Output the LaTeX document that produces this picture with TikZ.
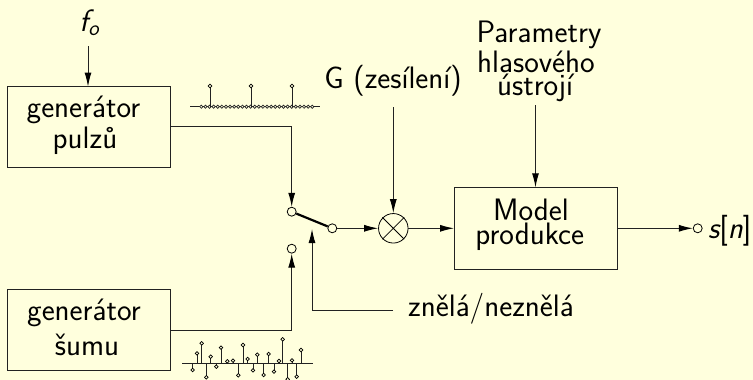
\documentclass[tikz,border=0pt]{standalone}
\usepackage{fontspec}
\usetikzlibrary{arrows.meta,shapes.misc}
\definecolor{bgcol}{HTML}{FFFFDD}
\definecolor{linecol}{HTML}{222222}
\tikzset{
  block/.style={draw=linecol,line width=1pt,anchor=north west,inner sep=0pt,outer sep=0pt,minimum width=163pt,minimum height=81pt},
  lab/.style={inner sep=0pt,anchor=base,font=\lbl},
  conn/.style={draw=linecol,line width=1pt,-{Latex[length=14pt,width=7pt,color=black]}},
  wire/.style={draw=linecol,line width=0.9pt},
  term/.style={draw=black,circle,fill=bgcol,line width=0.8pt,minimum size=9pt,inner sep=0pt},
  mult/.style={draw=black,circle,cross out,line width=0.8pt,minimum size=21pt,inner sep=0pt},
  ring/.style={draw=black,circle,line width=0.8pt,minimum size=29.5pt,inner sep=0pt},
  dot/.style={draw=black,fill=bgcol,line width=0.7pt},
}
\newcommand{\lbl}{\sffamily\fontsize{31}{35}\selectfont}
\begin{document}
\begin{tikzpicture}[x=1pt,y=-1pt]
\fill[bgcol] (0,0) rectangle (753,380);
\useasboundingbox (0,0) rectangle (753,380);
\node[block] (pulse) at (7.3,86.5) {};
\node[block] (noise) at (7.3,289) {};
\node[block,minimum height=82pt] (model) at (454,187.3) {};
\node[lab] (pulse1) at (83.5,117) {generátor};
\node[lab] (pulse2) at (85,148) {pulzů};
\node[lab] (noise1) at (84,320) {generátor};
\node[lab] (noise2) at (87,355) {šumu};
\node[lab] (model1) at (531,220.7) {Model};
\node[lab] (model2) at (529.7,244.3) {produkce};
\node[lab] (fo) at (89,31) {\itshape f\raisebox{-4pt}{\fontsize{22}{24}\selectfont o}};
\node[lab] (gain) at (393,88) {G (zesílení)};
\node[lab] (par1) at (539,42) {Parametry};
\node[lab] (par2) at (536,72) {hlasového};
\node[lab] (par3) at (535,95) {ústrojí};
\node[lab] (voiced) at (491,316) {znělá/neznělá};
\node[term] (swa) at (291.7,211.7) {};
\node[term] (swb) at (332.3,228.3) {};
\node[term] (swc) at (291.7,248.7) {};
\node[ring] (mx) at (393.3,228.3) {};
\node[mult] at (393.3,228.3) {};
\node[term] (out) at (697.7,228.3) {};
\node[lab,anchor=base west] (sn) at (708,238) {\itshape s\upshape[\itshape n\upshape]};
\coordinate (fostart) at (88,46);
\coordinate (gainstart) at (393.3,107);
\coordinate (parstart) at (535.5,105);
\coordinate (voicedtip) at (312,229);
\coordinate (voicedcorner) at (312,310);
\coordinate (voicedend) at (393,310);
\coordinate (pcorner) at (291.7,126.7);
\coordinate (ncorner) at (291.7,330);
\draw[conn] (fostart) -- (fostart |- pulse.north);
\draw[conn] (pulse.east |- pcorner) -- (pcorner) -- (swa);
\draw[conn] (noise.east |- ncorner) -- (ncorner) -- (swc);
\draw[black,line width=2.2pt] (swa) -- (swb);
\draw[conn] (swb) -- (mx);
\draw[conn] (gainstart) -- (mx);
\draw[conn] (mx) -- (mx -| model.west);
\draw[conn] (parstart) -- (parstart |- model.north);
\draw[conn] (mx -| model.east) -- (out);
\draw[conn] (voicedend) -- (voicedcorner) -- (voicedtip);
% pulse train
\draw[wire,line width=0.7pt] (190,106.7) -- (320,106.7);
\foreach \i in {0,...,27}{\filldraw[black!85,line width=0.7pt,fill=bgcol] (201.3+\i*4.11,106.7) circle (1.6pt);}
\foreach \x in {210,251,292}{
  \draw[wire,line width=0.9pt] (\x,106.7) -- (\x,87);
  \filldraw[dot] (\x,86) circle (1.8pt);}
% noise
\draw[wire,line width=0.9pt] (182,363.7) -- (312.7,363.7);
\foreach \x/\y in {68/150,81/100,95/70,109/172,122/110,139/140,153/83,172/124,189/122,205/166,219/75,233/117,249/151,262/104,281/165,296/102,312/155,327/123,338/58,353/178,366/121,380/170,393/90}{
  \draw[wire,line width=0.9pt] (170+\x/3,363.7) -- (170+\x/3,320+\y/3);
  \filldraw[dot] (170+\x/3,320+\y/3) circle (1.8pt);}
\end{tikzpicture}
\end{document}
